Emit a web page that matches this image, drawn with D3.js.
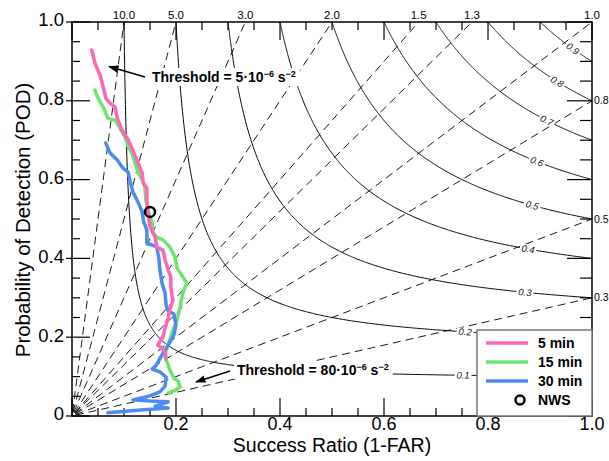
<!DOCTYPE html>
<html>
<head>
<meta charset="utf-8">
<script src="https://cdn.jsdelivr.net/npm/d3@7"></script>
<style>
  body { margin: 0; background: #fff; }
  svg { display: block; font-family: "Liberation Sans", Arial, Helvetica, sans-serif; }
</style>
</head>
<body>
<svg id="chart" width="609" height="461"></svg>
<script>
// Success ratio / POD traces for each lead window
const sr5  = [0.038,0.044,0.054,0.060,0.065,0.073,0.083,0.087,0.096,0.108,0.117,0.127,0.135,0.137,0.144,0.144,0.146,0.150,0.160,0.163,0.175,0.179,0.185,0.190,0.190,0.194,0.188,0.185,0.179,0.175,0.165,0.173,0.179,0.181];
const pod5 = [0.929,0.896,0.865,0.835,0.807,0.794,0.784,0.756,0.726,0.701,0.675,0.642,0.617,0.591,0.579,0.548,0.515,0.480,0.454,0.429,0.421,0.396,0.371,0.353,0.327,0.294,0.269,0.249,0.223,0.201,0.180,0.173,0.160,0.147];

const sr15  = [0.044,0.050,0.060,0.069,0.083,0.092,0.102,0.108,0.115,0.121,0.127,0.135,0.140,0.142,0.148,0.154,0.156,0.163,0.175,0.188,0.198,0.202,0.217,0.221,0.213,0.208,0.202,0.194,0.188,0.181,0.179,0.185,0.188,0.196,0.204,0.208,0.200,0.185];
const pod15 = [0.827,0.807,0.784,0.756,0.751,0.731,0.708,0.683,0.668,0.642,0.619,0.599,0.581,0.548,0.515,0.490,0.464,0.454,0.447,0.429,0.404,0.376,0.345,0.338,0.312,0.277,0.244,0.218,0.193,0.168,0.150,0.129,0.117,0.096,0.089,0.074,0.066,0.058];

const sr30  = [0.065,0.073,0.087,0.098,0.108,0.112,0.117,0.127,0.135,0.138,0.144,0.144,0.154,0.163,0.167,0.169,0.173,0.179,0.181,0.185,0.196,0.200,0.196,0.185,0.173,0.162,0.154,0.169,0.181,0.179,0.169,0.150,0.117,0.150,0.185,0.160,0.185,0.131,0.069];
const pod30 = [0.693,0.668,0.650,0.629,0.619,0.594,0.569,0.543,0.518,0.492,0.472,0.439,0.434,0.429,0.401,0.371,0.338,0.312,0.282,0.266,0.259,0.231,0.206,0.180,0.155,0.129,0.119,0.112,0.099,0.076,0.061,0.051,0.041,0.038,0.036,0.025,0.020,0.015,0.008];

// NWS warning verification point [success ratio, POD]
const nwsPoint = [0.150, 0.518];

// Reference lines of the performance diagram
const csiLevels   = [0.1, 0.2, 0.3, 0.4, 0.5, 0.6, 0.7, 0.8, 0.9];
const csiLabelSR  = [0.752, 0.756, 0.871, 0.877, 0.885, 0.894, 0.913, 0.933, 0.963];
const biasLevels  = [0.3, 0.5, 0.8, 1.0, 1.3, 1.5, 2.0, 3.0, 5.0, 10.0];
const biasTopLabels   = [10.0, 5.0, 3.0, 2.0, 1.5, 1.3, 1.0];
const biasRightLabels = [0.8, 0.5, 0.3];

// Axis ticks
const podTickLabels = [0, 0.2, 0.4, 0.6, 0.8, 1.0];
const srTickLabels  = [0.2, 0.4, 0.6, 0.8, 1.0];
const minorTicks    = d3.range(0, 21).map(i => i * 0.05);

const seriesNames  = ["5 min", "15 min", "30 min"];
const seriesColors = ["#ff66b8", "#6de46d", "#4a8cf0"];

const svg = d3.select("#chart");
const x = d3.scaleLinear().domain([0, 1]).range([72, 592]);
const y = d3.scaleLinear().domain([0, 1]).range([416, 22]);
const line = d3.line().x(d => x(d[0])).y(d => y(d[1]));

svg.append("defs").append("clipPath").attr("id", "plot")
  .append("rect").attr("x", x(0)).attr("y", y(1))
  .attr("width", x(1) - x(0)).attr("height", y(0) - y(1));

const grid = svg.append("g").attr("clip-path", "url(#plot)");

// bias lines (dashed), from the origin to the frame; pattern opens with a gap
biasLevels.forEach(b => {
  grid.append("path")
    .attr("d", line([[0, 0], [Math.min(1, 1 / b), Math.min(1, b)]]))
    .attr("fill", "none").attr("stroke", "#000").attr("stroke-width", 0.9)
    .attr("stroke-dasharray", "8,5").attr("stroke-dashoffset", 9);
});

// CSI contours: POD = 1 / (1/CSI + 1 - 1/SR)
const csiPod = (c, sr) => 1 / (1 / c + 1 - 1 / sr);
csiLevels.forEach(c => {
  const pts = d3.range(0, 401).map(i => {
    const t = i / 400;
    const sr = c + (1 - c) * t * t;
    return [sr, csiPod(c, sr)];
  });
  grid.append("path").attr("d", line(pts))
    .attr("fill", "none").attr("stroke", "#000").attr("stroke-width", 1);
});

// CSI contour labels, rotated along the curve
csiLevels.forEach((c, i) => {
  const sr = csiLabelSR[i];
  const p0 = [x(sr - 0.01), y(csiPod(c, sr - 0.01))];
  const p1 = [x(sr + 0.01), y(csiPod(c, sr + 0.01))];
  const ang = Math.atan2(p1[1] - p0[1], p1[0] - p0[0]) * 180 / Math.PI;
  const g = svg.append("g")
    .attr("transform", `translate(${x(sr)},${y(csiPod(c, sr))}) rotate(${ang})`);
  g.append("rect").attr("x", -8.5).attr("y", -4).attr("width", 17).attr("height", 8).attr("fill", "#fff");
  g.append("text").text(c.toFixed(1))
    .attr("text-anchor", "middle").attr("dy", "0.35em")
    .attr("font-size", 9.5).attr("font-style", "italic").attr("fill", "#111");
});

// frame
svg.append("rect").attr("x", x(0)).attr("y", y(1))
  .attr("width", x(1) - x(0)).attr("height", y(0) - y(1))
  .attr("fill", "none").attr("stroke", "#000").attr("stroke-width", 1.5);

// ticks on all four sides
const ticks = svg.append("g").attr("stroke", "#000").attr("stroke-width", 1.2);
minorTicks.forEach(v => {
  const major = Math.round(v * 100) % 20 === 0;
  const lx = major ? 18 : 8;
  ticks.append("line").attr("x1", x(v)).attr("x2", x(v)).attr("y1", y(0)).attr("y2", y(0) - lx);
  ticks.append("line").attr("x1", x(v)).attr("x2", x(v)).attr("y1", y(1)).attr("y2", y(1) + lx);
  ticks.append("line").attr("x1", major ? x(0) - 6 : x(0)).attr("x2", x(0) + lx).attr("y1", y(v)).attr("y2", y(v));
  ticks.append("line").attr("x1", x(1)).attr("x2", x(1) - (major ? 25 : 12)).attr("y1", y(v)).attr("y2", y(v));
});

// tick labels
svg.append("g").selectAll("text").data(podTickLabels).join("text")
  .attr("x", 64).attr("y", d => y(d) - 2).attr("dy", "0.35em")
  .attr("text-anchor", "end").attr("font-size", 18.5)
  .text(d => d === 0 ? "0" : d.toFixed(1));
svg.append("g").selectAll("text").data(srTickLabels).join("text")
  .attr("x", d => x(d)).attr("y", 430)
  .attr("text-anchor", "middle").attr("font-size", 18)
  .text(d => d.toFixed(1));

// bias labels along the top and right edges
svg.append("g").selectAll("text").data(biasTopLabels).join("text")
  .attr("x", d => x(1 / d)).attr("y", 19)
  .attr("text-anchor", "middle").attr("font-size", 11.5)
  .text(d => d.toFixed(1));
svg.append("g").selectAll("text").data(biasRightLabels).join("text")
  .attr("x", x(1) + 2).attr("y", d => y(d)).attr("dy", "0.35em")
  .attr("font-size", 10.5)
  .text(d => d.toFixed(1));

// axis titles
svg.append("text").attr("x", 332).attr("y", 452).attr("text-anchor", "middle")
  .attr("font-size", 19.5).text("Success Ratio (1-FAR)");
svg.append("text").attr("transform", "translate(30,220) rotate(-90)")
  .attr("text-anchor", "middle").attr("font-size", 20.5)
  .text("Probability of Detection (POD)");

// verification curves
const traces = [[sr15, pod15, 1], [sr30, pod30, 2], [sr5, pod5, 0]];
traces.forEach(([s, p, k]) => {
  svg.append("path").attr("d", line(s.map((v, i) => [v, p[i]])))
    .attr("fill", "none").attr("stroke", seriesColors[k])
    .attr("stroke-width", 3.5).attr("stroke-linejoin", "round").attr("stroke-linecap", "round");
});

// NWS point
svg.append("circle").attr("cx", x(nwsPoint[0])).attr("cy", y(nwsPoint[1])).attr("r", 5)
  .attr("fill", "none").attr("stroke", "#000").attr("stroke-width", 2.5);

// threshold annotations with arrows
svg.append("defs").append("marker").attr("id", "arrow")
  .attr("viewBox", "0 0 10 10").attr("refX", 9).attr("refY", 5)
  .attr("markerWidth", 7).attr("markerHeight", 7).attr("orient", "auto")
  .append("path").attr("d", "M0,1.5 L10,5 L0,8.5 Z").attr("fill", "#000");

function annotate(tx, ty, value, from, to) {
  const g = svg.append("g");
  const bg = g.append("rect").attr("fill", "#fff");
  const t = g.append("text").attr("x", tx).attr("y", ty)
    .attr("font-size", 14).attr("font-weight", "bold");
  t.append("tspan").text(`Threshold = ${value}·10`);
  t.append("tspan").attr("font-size", 9).attr("dy", -5).text("−6");
  t.append("tspan").attr("dy", 5).text(" s");
  t.append("tspan").attr("font-size", 9).attr("dy", -5).text("−2");
  const bb = t.node().getBBox();
  bg.attr("x", bb.x - 3).attr("y", bb.y - 1).attr("width", bb.width + 7).attr("height", bb.height + 2);
  g.append("line").attr("x1", from[0]).attr("y1", from[1]).attr("x2", to[0]).attr("y2", to[1])
    .attr("stroke", "#000").attr("stroke-width", 1.5).attr("marker-end", "url(#arrow)");
}
annotate(152, 82, "5", [145, 77], [109, 66.5]);
annotate(237, 375, "80", [230, 371], [196, 382]);

// legend
const lg = svg.append("g");
lg.append("rect").attr("x", 477).attr("y", 330).attr("width", 115).attr("height", 86)
  .attr("fill", "#fff").attr("stroke", "#777").attr("stroke-width", 1.5);
seriesNames.forEach((name, i) => {
  const ly = 343 + i * 19;
  lg.append("line").attr("x1", 486).attr("x2", 528).attr("y1", ly).attr("y2", ly)
    .attr("stroke", seriesColors[i]).attr("stroke-width", 3.5);
  lg.append("text").attr("x", 538).attr("y", ly).attr("dy", "0.35em")
    .attr("font-size", 14).attr("font-weight", "bold").text(name);
});
lg.append("circle").attr("cx", 520).attr("cy", 400).attr("r", 4.5)
  .attr("fill", "none").attr("stroke", "#000").attr("stroke-width", 2.5);
lg.append("text").attr("x", 538).attr("y", 400).attr("dy", "0.35em")
  .attr("font-size", 14).attr("font-weight", "bold").text("NWS");
</script>
</body>
</html>
